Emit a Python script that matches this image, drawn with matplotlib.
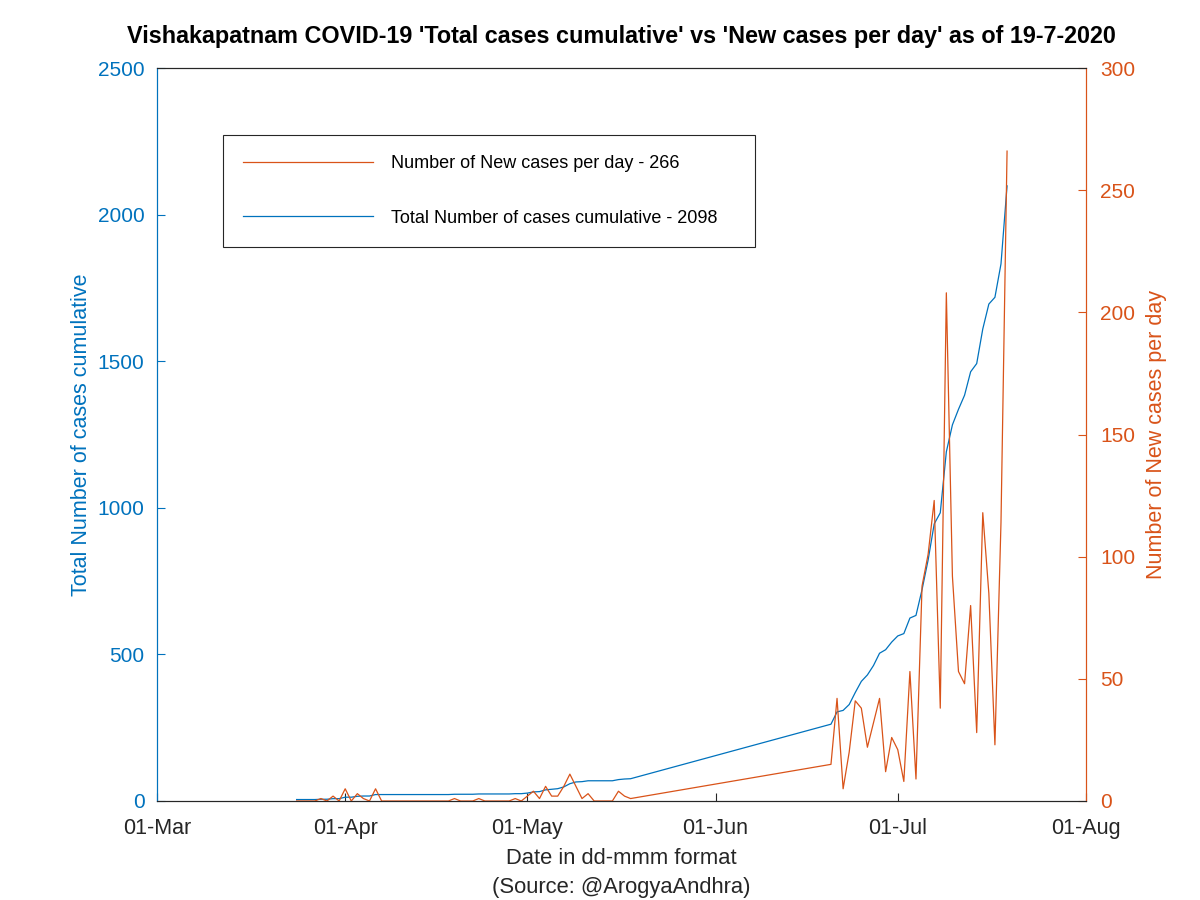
import matplotlib
matplotlib.use("Agg")
import matplotlib.pyplot as plt
import matplotlib.dates as mdates
import pandas as pd
import numpy as np

plt.rcParams['font.family'] = ['Liberation Sans', 'DejaVu Sans']

# ---------------- data ----------------
dates_early = pd.date_range('2020-03-24', '2020-05-18')   # 56 days
dates_late = pd.date_range('2020-06-20', '2020-07-19')    # 30 days

new_early = [0, 0, 0, 0, 1, 0, 2, 0,
             5, 0, 3, 1, 0, 5, 0,
             0, 0, 0, 0, 0, 0, 0, 0, 0, 0, 0,
             1, 0, 0, 0, 1, 0, 0, 0, 0, 0, 1, 0,
             2, 4, 1, 6, 2, 2, 6, 11, 6, 1, 3, 0, 0, 0, 0, 4, 2, 1]
new_late = [15, 42, 5, 20, 41, 38, 22, 32, 42, 12, 26, 21, 8, 53, 9,
            88, 101, 123, 38, 208, 92, 53, 48, 80, 28, 118, 85, 23, 114, 266]

total_early = [5, 5, 5, 5, 6, 6, 8, 8,
               13, 13, 16, 17, 17, 22, 22,
               22, 22, 22, 22, 22, 22, 22, 22, 22, 22, 22,
               23, 23, 23, 23, 24, 24, 24, 24, 24, 24, 25, 25,
               27, 31, 32, 38, 40, 42, 48, 59, 65, 66, 69, 69, 69, 69, 69, 73, 75, 76]
total_late = [262, 304, 309, 329, 370, 408, 430, 462, 504, 516, 542, 563, 571,
              624, 633, 721, 822, 945, 983, 1191, 1283, 1336, 1384, 1464, 1492,
              1610, 1695, 1718, 1832, 2098]

dates = dates_early.append(dates_late)
new_cases = new_early + new_late
total_cases = total_early + total_late

blue = '#0072BD'
orange = '#D95319'
dark = '#262626'

fig = plt.figure(figsize=(12, 9), dpi=100)
ax = fig.add_axes([0.1308, 0.11, 0.7742, 0.8144])
ax2 = ax.twinx()

l1, = ax.plot(dates, total_cases, color=blue, lw=0.9)
l2, = ax2.plot(dates, new_cases, color=orange, lw=0.9)

ax.set_xlim(pd.Timestamp('2020-03-01'), pd.Timestamp('2020-08-01'))
ax.set_ylim(0, 2500)
ax2.set_ylim(0, 300)
ax.set_yticks(np.arange(0, 2501, 500))
ax2.set_yticks(np.arange(0, 301, 50))
ax.xaxis.set_major_locator(mdates.MonthLocator())
ax.xaxis.set_major_formatter(mdates.DateFormatter('%d-%b'))

fs = 15
ax.tick_params(axis='x', direction='in', length=6, width=0.8, colors=dark,
               labelsize=fs + 0.5, pad=12)
ax.tick_params(axis='y', direction='in', length=6, width=0.8, colors=blue,
               labelsize=fs, pad=9)
ax2.tick_params(axis='y', direction='in', length=6, width=0.8, colors=orange,
                labelsize=fs, pad=10)

for a in (ax, ax2):
    a.spines['top'].set_color(dark)
    a.spines['bottom'].set_color(dark)
    a.spines['left'].set_color(blue)
    a.spines['right'].set_color(orange)
    for s in a.spines.values():
        s.set_linewidth(0.8)

ax.set_ylabel('Total Number of cases cumulative', color=blue, fontsize=15.5,
              labelpad=4)
ax2.set_ylabel('Number of New cases per day', color=orange, fontsize=15.5,
               labelpad=8)
ax.set_xlabel('Date in dd-mmm format\n(Source: @ArogyaAndhra)', color=dark,
              fontsize=15.8, labelpad=7, linespacing=1.45)
ax.set_title("Vishakapatnam COVID-19 'Total cases cumulative' vs 'New cases per day' as of 19-7-2020",
             fontsize=16.8, fontweight='bold', pad=18)

leg = ax2.legend([l2, l1],
                 ['Number of New cases per day - 266',
                  'Total Number of cases cumulative - 2098'],
                 loc='upper left',
                 bbox_to_anchor=(0.071, 0.9086 - 0.1487, 0.5727, 0.1487),
                 mode='expand',
                 borderaxespad=0, fontsize=13, handlelength=7.2,
                 handletextpad=1.0, labelspacing=2.1, borderpad=1.1,
                 fancybox=False, edgecolor=dark, framealpha=1)
leg.get_frame().set_linewidth(0.8)

fig.savefig('out.png', dpi=100, facecolor='white')
